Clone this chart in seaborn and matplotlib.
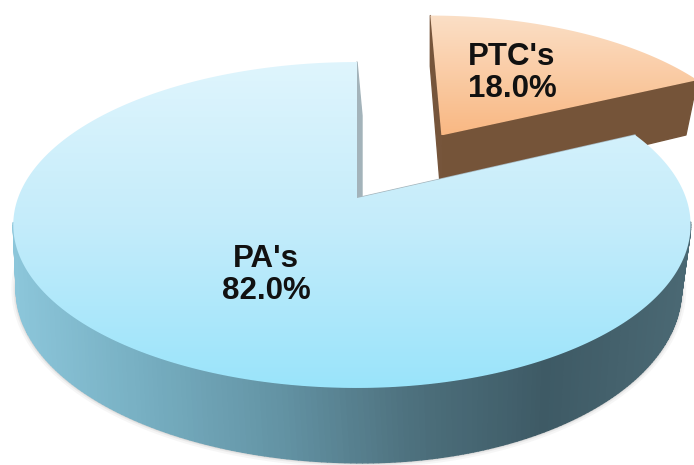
import numpy as np
import seaborn as sns
import matplotlib.pyplot as plt

from matplotlib.collections import PolyCollection
from matplotlib.patches import Polygon

labels = ["PA's", "PTC's"]
values = [82.0, 18.0]
explode = [0, 0.5]
label_pos = [(266, 275), (512, 73)]

top_colors = [['#dff5fd', '#c4ecfa', '#9ae4fb'], ['#fbdfc6', '#f9b883']]
side_colors = [['#8cc6da', '#76aec1', '#6393a4', '#4d707d', '#3e5a65', '#4a6873'], ['#7c5b40', '#735238']]
inner_color = '#a3b3ba'

sns.set_theme(style='white')
plt.rcParams['font.family'] = ['Liberation Sans', 'DejaVu Sans']

# the pie is squashed into the perspective of the picture
C = 0.1656
A = -125.7


def project(x, y, dx=0):
    w = 1 + C * y
    k = np.where(x < 0, 339, 329)
    return 357 + dx + k * x / w, (A * y + 198) / w


def project_base(x, y):
    w = 1 + C * y
    k = np.where(x < 0, 341, 315)
    return 362 + k * x / w, (A * y + 198) / w + 62.5 / w


def outline(wedge, n=360):
    t = np.radians(np.linspace(wedge.theta1, wedge.theta2, n))
    cx, cy = wedge.center
    x = np.r_[cx, cx + wedge.r * np.cos(t)]
    y = np.r_[cy, cy + wedge.r * np.sin(t)]
    return x, y, np.sin(t)


f, ax = plt.subplots(figsize=(6.94, 4.65), dpi=100)
f.subplots_adjust(0, 0, 1, 1)
wedges, _ = ax.pie(values, explode=explode, startangle=90)
for w in wedges:
    w.set_visible(False)
ax.set_aspect('auto')
ax.axis('off')

grad = np.linspace(0, 1, 256)[:, None]
# back slice first, the big one lies over it
for i in [1, 0]:
    x, y, s = outline(wedges[i])
    dx = 2 if i == 1 else 0
    tx, ty = project(x, y, dx)
    bx, by = project_base(x, y)
    top = np.c_[tx, ty]
    base = np.c_[bx, by]
    z = 4 if i == 0 else 2

    if i == 0:
        arc = base[1:][by[1:] > 235]
        for lw, a in [(7, 0.05), (4, 0.08), (2, 0.12)]:
            ax.plot(arc[:, 0], arc[:, 1], color='#555555', lw=lw, alpha=a, zorder=1)

    # only the walls that face us: straight edges and the front of the arc
    n = len(top)
    quads = []
    for j in range(n):
        on_arc = 0 < j < n - 1
        if on_arc and s[j - 1] > -0.15:
            continue
        quads.append([top[j], top[(j + 1) % n], base[(j + 1) % n], base[j]])
    mid = np.array([np.mean(q, axis=0)[0] for q in quads])
    cmap = sns.blend_palette(side_colors[i], as_cmap=True)
    cols = cmap(np.clip((mid - 15) / 666, 0, 1))
    if i == 0:
        # the strip beside the gap is pale in the picture
        cols[0] = cols[-1] = plt.matplotlib.colors.to_rgba(inner_color)
    ax.add_collection(PolyCollection(quads, facecolors=cols, edgecolors=cols, linewidths=1.0, zorder=z))

    img = ax.imshow(grad, cmap=sns.blend_palette(top_colors[i], as_cmap=True), aspect='auto',
                    extent=(tx.min(), tx.max(), ty.max(), ty.min()), zorder=z + 1)
    clip = Polygon(top, closed=True, transform=ax.transData)
    img.set_clip_path(clip)

ax.set_xlim(0, 694)
ax.set_ylim(465, 0)

for lab, val, pos in zip(labels, values, label_pos):
    ax.text(pos[0], pos[1], f"{lab}\n{val:.1f}%", ha='center', va='center', fontsize=22.5,
            fontweight='bold', color='#111111', linespacing=1.12, zorder=10)

f.savefig('out.png', dpi=100)
